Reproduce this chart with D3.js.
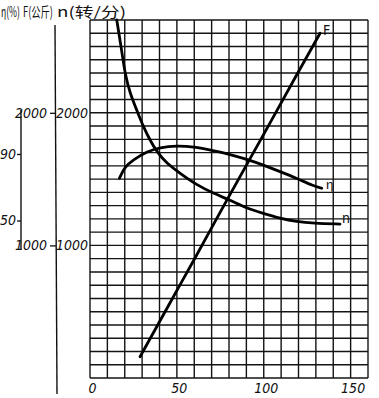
<!DOCTYPE html>
<html>
<head>
<meta charset="utf-8">
<script src="https://cdn.jsdelivr.net/npm/d3@7"></script>
<style>
  body { margin: 0; background: #fff; }
  svg { display: block; }
  .lbl { font-family: "Liberation Sans Narrow", "DejaVu Sans Condensed", sans-serif; font-style: italic; font-size: 14px; fill: #111; }
  .cjk { font-family: "Noto Sans CJK SC", sans-serif; font-size: 14px; fill: #111; }
</style>
</head>
<body>
<script>
// horizontal axis (load) and tick labels
var xTicks = [0, 50, 100, 150];
var nTicks = [1000, 2000];
var fTicks = [1000, 2000];
var etaTicks = [50, 90];

// n (转/分) curve
var nX    = [15.4, 18.2, 20.1, 23.0, 26.9, 30.7, 34.5, 38.4, 44.1, 51.8, 61.4, 71.0, 80.6, 90.2, 99.7, 109.4, 119.0, 128.5, 143.9];
var nVals = [2700, 2474, 2298, 2147, 2021, 1895, 1795, 1707, 1619, 1544, 1456, 1393, 1342, 1280, 1242, 1204, 1179, 1167, 1161];

// efficiency η (%)
var etaX    = [16.9, 20.1, 24.9, 32.6, 40.3, 49.9, 59.5, 71.0, 80.6, 90.2, 99.7, 109.4, 119.0, 128.5, 133.4];
var etaVals = [75.4, 82.4, 86.4, 91.4, 94.0, 95.0, 94.4, 92.0, 89.8, 86.8, 83.4, 79.4, 75.4, 70.8, 69.4];

// tractive force F (公斤)
var fX    = [28.8, 46.0, 61.4, 78.7, 99.7, 117.0, 132.4];
var fVals = [160, 566, 928, 1340, 1832, 2240, 2600];

var W = 379, H = 398;
var svg = d3.select("body").append("svg").attr("width", W).attr("height", H);

var x = d3.scaleLinear().domain([0, 160]).range([90, 368]);
var yN = d3.scaleLinear().domain([0, 2700]).range([378, 20]);
var yF = d3.scaleLinear().domain([0, 2700]).range([378, 20]);
var yEta = d3.scaleLinear().domain([50, 90]).range([220.5, 154]);

// grid
var grid = svg.append("g").attr("stroke", "#141414").attr("stroke-width", 1.4);
grid.selectAll("line.v").data(d3.range(0, 161, 10)).enter().append("line")
  .attr("x1", function(d) { return x(d); }).attr("x2", function(d) { return x(d); })
  .attr("y1", yN(2700)).attr("y2", yN(0));
grid.selectAll("line.h").data(d3.range(0, 2701, 100)).enter().append("line")
  .attr("x1", x(0)).attr("x2", x(160))
  .attr("y1", function(d) { return yN(d); }).attr("y2", function(d) { return yN(d); });

function styleText(g) {
  g.selectAll("text").attr("class", "lbl").attr("font-size", null).attr("font-family", null).attr("fill", null);
}

// x axis labels
var xa = svg.append("g").attr("transform", "translate(2," + (yN(0) + 5) + ")")
  .call(d3.axisBottom(x).tickValues(xTicks).tickSize(0).tickPadding(0));
xa.select(".domain").remove();
styleText(xa);

// n axis labels (next to grid)
var na = svg.append("g").attr("transform", "translate(" + (x(0) - 2) + ",0)")
  .call(d3.axisLeft(yN).tickValues(nTicks).tickSize(0).tickPadding(0).tickFormat(d3.format("d")));
na.select(".domain").remove();
styleText(na);

// F axis
svg.append("line").attr("x1", 55).attr("x2", 57).attr("y1", 25).attr("y2", 394)
  .attr("stroke", "#111").attr("stroke-width", 1.4);
var fa = svg.append("g").attr("transform", "translate(56,0)")
  .call(d3.axisLeft(yF).tickValues(fTicks).tickSize(6).tickPadding(3).tickFormat(d3.format("d")));
fa.select(".domain").remove();
fa.selectAll("line").attr("stroke", "#111").attr("stroke-width", 1.3);
styleText(fa);

// η axis
svg.append("line").attr("x1", 21).attr("x2", 21).attr("y1", 110).attr("y2", 250)
  .attr("stroke", "#111").attr("stroke-width", 1.4);
var ea = svg.append("g").attr("transform", "translate(21,0)")
  .call(d3.axisLeft(yEta).tickValues(etaTicks).tickSize(4).tickPadding(1));
ea.select(".domain").remove();
ea.selectAll("line").attr("stroke", "#111").attr("stroke-width", 1.3);
styleText(ea);

// header units, squeezed to the hand-written widths
var head = [
  { t: "η(%)", x: 1, w: 19 },
  { t: "F(公斤)", x: 23, w: 30 },
  { t: "n(转/分)", x: 57, w: 69 }
];
svg.selectAll("text.head").data(head).enter().append("text")
  .attr("class", "cjk").style("font-size", "14px")
  .text(function(d) { return d.t; })
  .attr("transform", function(d) {
    var k = d.w / this.getComputedTextLength();
    return "translate(" + d.x + ",17) scale(" + k + ",1)";
  });

// curves
function curve(xs, ys, sy, c) {
  return d3.line().curve(c)
    .x(function(d, i) { return x(xs[i]); })
    .y(function(d) { return sy(d); })(ys);
}
var curves = svg.append("g").attr("fill", "none").attr("stroke", "#000").attr("stroke-width", 2.8)
  .attr("stroke-linecap", "round");
curves.append("path").attr("d", curve(nX, nVals, yN, d3.curveBasis));
curves.append("path").attr("d", curve(etaX, etaVals, yEta, d3.curveBasis));
curves.append("path").attr("d", curve(fX, fVals, yF, d3.curveMonotoneX));

// curve names
var last = function(a) { return a[a.length - 1]; };
svg.append("text").attr("class", "lbl").style("font-style", "normal")
  .attr("x", x(last(fX)) + 3).attr("y", yF(last(fVals)) + 2).text("F");
svg.append("text").attr("class", "cjk").style("font-size", "13px")
  .attr("x", x(last(etaX)) + 4).attr("y", yEta(last(etaVals)) + 1).text("η");
svg.append("text").attr("class", "lbl").style("font-style", "normal")
  .attr("x", x(last(nX)) + 2).attr("y", yN(last(nVals)) - 1).text("n");
</script>
</body>
</html>
